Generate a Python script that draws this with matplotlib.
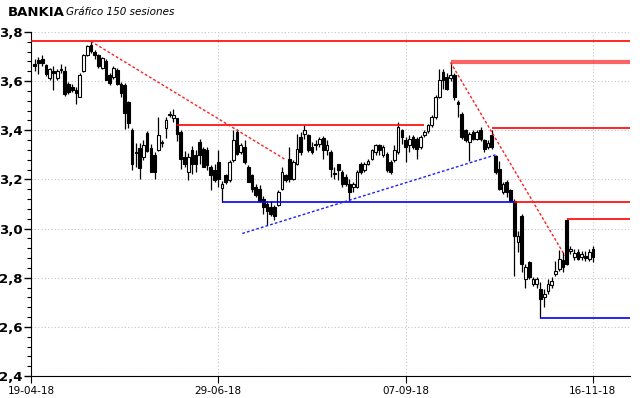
import matplotlib
matplotlib.use("Agg")
import matplotlib.pyplot as plt
import numpy as np
from matplotlib.ticker import MultipleLocator, FuncFormatter

# daily OHLC, 150 sessions
opens = [3.670, 3.686, 3.690, 3.666, 3.613, 3.640, 3.612, 3.645, 3.640, 3.588,
         3.578, 3.565, 3.537, 3.640, 3.708, 3.748, 3.718, 3.706, 3.655, 3.680,
         3.625, 3.615, 3.645, 3.588, 3.585, 3.515, 3.400, 3.312, 3.326, 3.290,
         3.390, 3.327, 3.300, 3.320, 3.348, 3.408, 3.462, 3.452, 3.448, 3.393,
         3.290, 3.230, 3.318, 3.298, 3.352, 3.325, 3.318, 3.250, 3.237, 3.270,
         3.166, 3.217, 3.196, 3.278, 3.393, 3.310, 3.332, 3.250, 3.216, 3.171,
         3.162, 3.120, 3.100, 3.087, 3.087, 3.094, 3.162, 3.216, 3.284, 3.203,
         3.264, 3.373, 3.386, 3.380, 3.332, 3.345, 3.346, 3.368, 3.318, 3.310,
         3.226, 3.264, 3.230, 3.210, 3.182, 3.169, 3.169, 3.264, 3.237, 3.264,
         3.284, 3.312, 3.339, 3.298, 3.305, 3.271, 3.278, 3.312, 3.400, 3.359,
         3.339, 3.373, 3.366, 3.332, 3.380, 3.396, 3.420, 3.454, 3.536, 3.638,
         3.618, 3.612, 3.624, 3.516, 3.468, 3.400, 3.352, 3.393, 3.366, 3.400,
         3.359, 3.332, 3.380, 3.294, 3.244, 3.148, 3.189, 3.155, 3.114, 2.944,
         3.053, 2.795, 2.863, 2.774, 2.774, 2.754, 2.720, 2.747, 2.771, 2.815,
         2.835, 2.872, 3.035, 2.907, 2.886, 2.903, 2.883, 2.890, 2.876, 2.917]
highs = [3.690, 3.700, 3.705, 3.670, 3.655, 3.660, 3.650, 3.668, 3.660, 3.598,
         3.590, 3.575, 3.635, 3.712, 3.748, 3.762, 3.728, 3.712, 3.700, 3.690,
         3.632, 3.660, 3.652, 3.595, 3.592, 3.520, 3.410, 3.350, 3.350, 3.360,
         3.398, 3.345, 3.310, 3.455, 3.362, 3.455, 3.480, 3.485, 3.452, 3.400,
         3.317, 3.306, 3.338, 3.318, 3.365, 3.332, 3.332, 3.257, 3.264, 3.318,
         3.194, 3.224, 3.278, 3.400, 3.407, 3.347, 3.359, 3.257, 3.223, 3.182,
         3.176, 3.134, 3.114, 3.114, 3.094, 3.155, 3.250, 3.223, 3.332, 3.280,
         3.386, 3.393, 3.420, 3.386, 3.352, 3.359, 3.373, 3.376, 3.359, 3.318,
         3.250, 3.264, 3.237, 3.223, 3.203, 3.189, 3.237, 3.271, 3.271, 3.284,
         3.325, 3.346, 3.346, 3.339, 3.312, 3.278, 3.339, 3.434, 3.407, 3.373,
         3.380, 3.380, 3.373, 3.380, 3.400, 3.427, 3.461, 3.543, 3.649, 3.649,
         3.632, 3.676, 3.632, 3.523, 3.475, 3.405, 3.395, 3.403, 3.400, 3.414,
         3.366, 3.359, 3.403, 3.298, 3.277, 3.189, 3.196, 3.162, 3.120, 2.992,
         3.060, 2.856, 2.870, 2.801, 2.801, 2.781, 2.754, 2.795, 2.802, 2.870,
         2.911, 2.905, 3.038, 2.931, 2.917, 2.917, 2.910, 2.910, 2.917, 2.931]
lows = [3.640, 3.630, 3.660, 3.620, 3.605, 3.565, 3.605, 3.635, 3.540, 3.548,
        3.555, 3.505, 3.535, 3.636, 3.702, 3.715, 3.690, 3.655, 3.648, 3.605,
        3.585, 3.608, 3.585, 3.535, 3.405, 3.410, 3.238, 3.250, 3.200, 3.280,
        3.310, 3.230, 3.200, 3.315, 3.330, 3.367, 3.455, 3.435, 3.357, 3.243,
        3.250, 3.196, 3.222, 3.230, 3.264, 3.250, 3.237, 3.155, 3.189, 3.170,
        3.107, 3.183, 3.189, 3.271, 3.298, 3.305, 3.264, 3.189, 3.149, 3.128,
        3.108, 3.060, 3.016, 3.053, 3.033, 3.090, 3.155, 3.189, 3.189, 3.196,
        3.257, 3.300, 3.366, 3.312, 3.305, 3.318, 3.332, 3.285, 3.298, 3.209,
        3.203, 3.196, 3.169, 3.175, 3.114, 3.148, 3.165, 3.223, 3.230, 3.257,
        3.278, 3.298, 3.298, 3.291, 3.230, 3.223, 3.271, 3.305, 3.346, 3.271,
        3.312, 3.325, 3.284, 3.325, 3.373, 3.390, 3.414, 3.445, 3.530, 3.570,
        3.563, 3.600, 3.523, 3.455, 3.366, 3.352, 3.277, 3.360, 3.360, 3.355,
        3.312, 3.325, 3.325, 3.223, 3.155, 3.141, 3.128, 3.107, 2.808, 2.903,
        2.822, 2.760, 2.795, 2.767, 2.760, 2.638, 2.679, 2.733, 2.760, 2.808,
        2.826, 2.822, 2.853, 2.897, 2.872, 2.872, 2.872, 2.866, 2.866, 2.862]
closes = [3.660, 3.674, 3.675, 3.628, 3.650, 3.635, 3.640, 3.646, 3.547, 3.555,
          3.563, 3.550, 3.626, 3.706, 3.742, 3.722, 3.705, 3.660, 3.694, 3.605,
          3.592, 3.655, 3.590, 3.552, 3.470, 3.430, 3.262, 3.306, 3.245, 3.340,
          3.315, 3.232, 3.232, 3.380, 3.352, 3.440, 3.468, 3.462, 3.386, 3.284,
          3.262, 3.290, 3.264, 3.264, 3.298, 3.252, 3.257, 3.216, 3.196, 3.200,
          3.180, 3.190, 3.270, 3.360, 3.305, 3.340, 3.270, 3.190, 3.162, 3.135,
          3.114, 3.087, 3.073, 3.060, 3.053, 3.148, 3.230, 3.196, 3.200, 3.270,
          3.325, 3.310, 3.400, 3.318, 3.310, 3.340, 3.366, 3.320, 3.342, 3.243,
          3.222, 3.237, 3.182, 3.182, 3.148, 3.182, 3.230, 3.230, 3.264, 3.274,
          3.318, 3.339, 3.318, 3.332, 3.237, 3.230, 3.318, 3.414, 3.373, 3.332,
          3.366, 3.332, 3.325, 3.373, 3.393, 3.420, 3.454, 3.536, 3.604, 3.604,
          3.570, 3.625, 3.536, 3.505, 3.373, 3.360, 3.386, 3.366, 3.393, 3.366,
          3.325, 3.348, 3.332, 3.230, 3.162, 3.182, 3.148, 3.114, 2.971, 2.971,
          2.856, 2.842, 2.801, 2.795, 2.795, 2.713, 2.733, 2.774, 2.788, 2.829,
          2.876, 2.842, 2.856, 2.917, 2.900, 2.876, 2.896, 2.880, 2.903, 2.883]

date_labels = ["19-04-18", "29-06-18", "07-09-18", "16-11-18"]
date_pos = [-1, 49, 99, 149]

# drawn levels: (price, first session, last session, colour, width)
levels = [(3.762, -1, 160, "#ff0000", 1.2),
          (3.421, 38, 104, "#ff0000", 1.2),
          (3.676, 111, 160, "#ff3030", 3.0),
          (3.408, 122, 160, "#ff0000", 1.2),
          (3.107, 50, 128, "#0000ff", 1.2),
          (3.107, 128, 160, "#ff0000", 1.2),
          (3.038, 142, 160, "#ff0000", 1.2),
          (2.638, 135, 160, "#0000ff", 1.2)]
# trend lines: (session0, price0, session1, price1, colour)
trends = [(15, 3.762, 67, 3.280, "#ff2020"),
          (111, 3.676, 141.5, 2.890, "#ff2020"),
          (55.4, 2.980, 123, 3.300, "#2020ff")]

o = np.array(opens)
h = np.array(highs)
l = np.array(lows)
c = np.array(closes)
x = np.arange(len(o))

fig = plt.figure(figsize=(6.4, 3.98), dpi=100)
ax = fig.add_axes([31 / 640, 1 - 376 / 398, 599 / 640, 344 / 398])

ax.vlines(x, l, h, color="black", linewidth=0.9, zorder=2)
up = c >= o
body_bot = np.minimum(o, c)
body_h = np.maximum(np.abs(c - o), 0.004)
ax.bar(x[up], body_h[up], bottom=body_bot[up], width=0.72,
       facecolor="white", edgecolor="black", linewidth=0.8, zorder=3)
ax.bar(x[~up], body_h[~up], bottom=body_bot[~up], width=0.72,
       facecolor="black", edgecolor="black", linewidth=0.8, zorder=3)

for price, x0, x1, col, lw in levels:
    alpha = 0.75 if lw > 2 else 1.0
    ax.hlines(price, x0, x1, color=col, linewidth=lw, alpha=alpha, zorder=4)
for x0, p0, x1, p1, col in trends:
    ax.plot([x0, x1], [p0, p1], color=col, linewidth=1.0, linestyle=(0, (2, 1.5)), zorder=4)

ax.set_xlim(-0.8, 158.9)
ax.set_ylim(2.4, 3.8)
ax.yaxis.set_major_locator(MultipleLocator(0.2))
ax.yaxis.set_minor_locator(MultipleLocator(0.04))
ax.yaxis.set_major_formatter(FuncFormatter(lambda v, p: f"{v:.1f}".replace(".", ",")))
ax.set_xticks(date_pos)
ax.set_xticklabels(date_labels)

ax.grid(True, which="major", color="#c4c4d0", linestyle=(0, (1, 2)), linewidth=0.8)
ax.set_axisbelow(True)
for s in ["top", "right"]:
    ax.spines[s].set_visible(False)
ax.tick_params(axis="y", which="major", length=5, width=1, labelsize=9.5, pad=1)
ax.tick_params(axis="y", which="minor", length=3, width=0.8)
ax.tick_params(axis="x", length=5, labelsize=7.5, pad=2)
for t in ax.get_yticklabels():
    t.set_fontweight("bold")

fig.text(8 / 640, 1 - 12 / 398, "BANKIA", fontsize=9.5, fontweight="bold", va="center")
fig.text(66 / 640, 1 - 12 / 398, "Gráfico 150 sesiones", fontsize=7.5, style="italic", va="center")

plt.savefig("out.png", dpi=100)
plt.close()
